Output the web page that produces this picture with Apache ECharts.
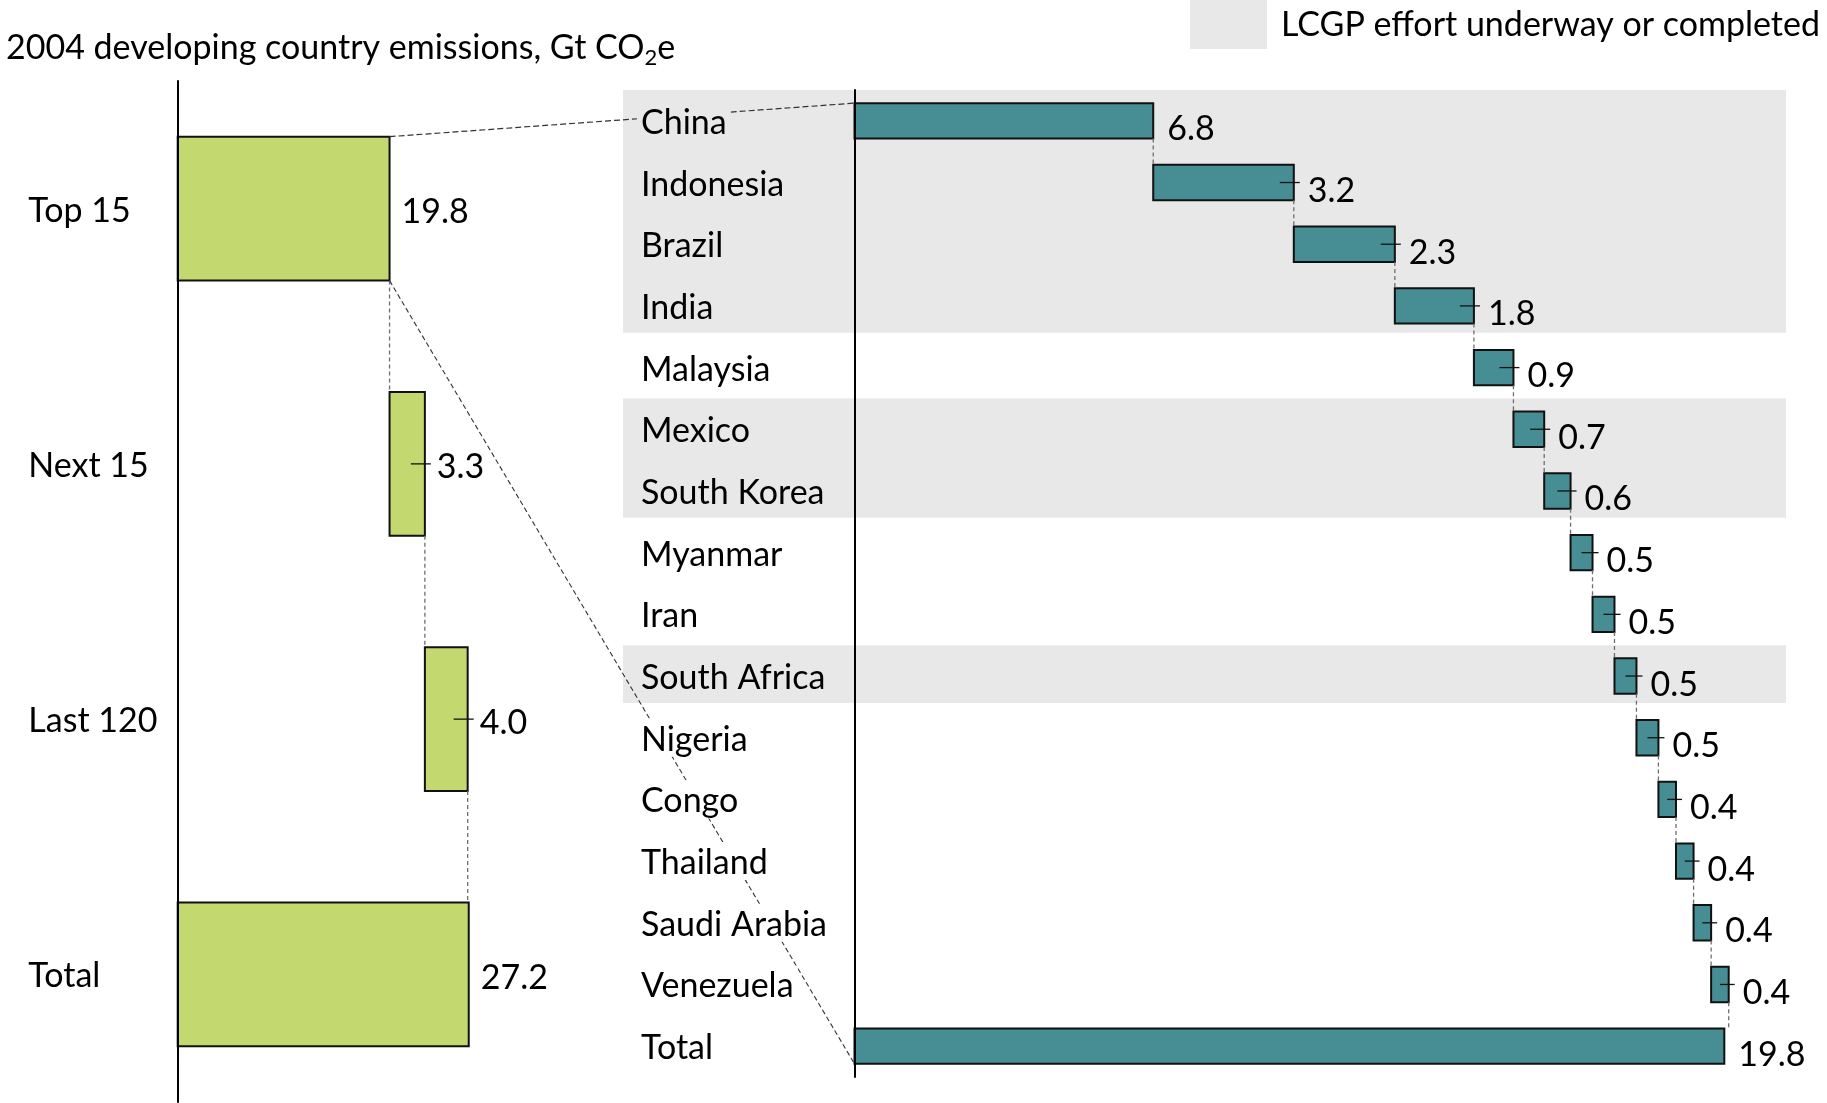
<!DOCTYPE html>
<html>
<head>
<meta charset="utf-8">
<title>2004 developing country emissions</title>
<script src="https://cdn.jsdelivr.net/npm/echarts@6/dist/echarts.min.js"></script>
<style>
  html, body { margin: 0; padding: 0; background: #fff; }
  #chart { width: 1827px; height: 1103px; }
</style>
</head>
<body>
<div id="chart"></div>
<script>
// Emission groups (Gt CO2e); the last entry is the overall total
const groupNames = ['Top 15', 'Next 15', 'Last 120', 'Total'];
const groupValues = [19.8, 3.3, 4.0, 27.2];

// Top 15 developing countries; the last entry is their total
const countryNames = ['China', 'Indonesia', 'Brazil', 'India', 'Malaysia', 'Mexico',
  'South Korea', 'Myanmar', 'Iran', 'South Africa', 'Nigeria', 'Congo', 'Thailand',
  'Saudi Arabia', 'Venezuela', 'Total'];
const countryValues = [6.8, 3.2, 2.3, 1.8, 0.9, 0.7, 0.6, 0.5, 0.5, 0.5, 0.5, 0.4, 0.4,
  0.4, 0.4, 19.8];

// 1 = LCGP effort underway or completed
const lcgpFlags = [1, 1, 1, 1, 0, 1, 1, 0, 0, 1, 0, 0, 0, 0, 0, 0];

const FONT = 'Lato';
const FS = 34;
const BAND_GREY = '#E8E8E8';

// Waterfall rows: [start, end, categoryIndex, value, kind]
// kind 0 = first step, 1 = intermediate step, 2 = total bar
function waterfall(values) {
  let acc = 0;
  return values.map(function (v, i) {
    if (i === values.length - 1) return [0, v, i, v, 2];
    const row = [acc, acc + v, i, v, i === 0 ? 0 : 1];
    acc += v;
    return row;
  });
}

function makeRenderer(barRatio, labelDx, labelDy) {
  return function (params, api) {
    const s = api.value(0), e = api.value(1), c = api.value(2), v = api.value(3), kind = api.value(4);
    const p0 = api.coord([s, c]);
    const p1 = api.coord([e, c]);
    const band = api.size([0, 1])[1];
    const h = band * barRatio;
    const top = p0[1] - h / 2;
    const children = [{
      type: 'rect',
      shape: { x: p0[0], y: top, width: p1[0] - p0[0], height: h },
      style: { fill: api.visual('color'), stroke: '#111', lineWidth: 2 }
    }];
    if (kind !== 2) {
      // dashed connector down to the next bar
      const nextTop = api.coord([e, c + 1])[1] - h / 2;
      children.push({
        type: 'line',
        shape: { x1: p1[0], y1: top + h, x2: p1[0], y2: nextTop },
        style: { stroke: '#6f6f6f', lineWidth: 1.3, lineDash: [4, 3] }
      });
    }
    if (kind === 1) {
      // short leader from inside the bar to its label
      const mid = (p0[0] + p1[0]) / 2;
      children.push({
        type: 'line',
        shape: { x1: Math.max(mid, p1[0] - 14), y1: p1[1], x2: p1[0] + 6, y2: p1[1] },
        style: { stroke: '#111', lineWidth: 1.3 }
      });
    }
    children.push({
      type: 'text',
      style: {
        text: v.toFixed(1), x: p1[0] + labelDx, y: p1[1] + labelDy,
        fill: '#000', font: FS + 'px ' + FONT, verticalAlign: 'middle', align: 'left'
      }
    });
    return { type: 'group', children: children };
  };
}

const chart = echarts.init(document.getElementById('chart'), null, { renderer: 'canvas' });

const richLabels = {
  g: { backgroundColor: BAND_GREY, padding: [4, 4, 0, 4], fontFamily: FONT, fontSize: FS, color: '#000' },
  w: { backgroundColor: '#fff', padding: [4, 4, 0, 4], fontFamily: FONT, fontSize: FS, color: '#000' }
};

chart.setOption({
  animation: false,
  backgroundColor: '#fff',
  grid: [
    { left: 177.7, top: 81, width: 321, height: 1021 },
    { left: 854.5, top: 90, width: 878.6, height: 987 }
  ],
  xAxis: [
    { gridIndex: 0, type: 'value', min: 0, max: 30, show: false },
    { gridIndex: 1, type: 'value', min: 0, max: 20, show: false }
  ],
  yAxis: [
    {
      gridIndex: 0, type: 'category', data: groupNames, inverse: true, z: 10,
      axisLine: { show: true, lineStyle: { color: '#000', width: 2 } },
      axisTick: { show: false }, splitLine: { show: false },
      axisLabel: {
        margin: 153.4, align: 'left', fontFamily: FONT, fontSize: FS, color: '#000',
        formatter: function (value) { return '{w|' + value + '}'; },
        rich: richLabels
      }
    },
    {
      gridIndex: 1, type: 'category', data: countryNames, inverse: true, z: 10,
      axisLine: { show: true, lineStyle: { color: '#000', width: 2 } },
      axisTick: { show: false }, splitLine: { show: false },
      axisLabel: {
        margin: 217.5, align: 'left', fontFamily: FONT, fontSize: FS, color: '#000',
        formatter: function (value, idx) {
          return (lcgpFlags[idx] ? '{g|' : '{w|') + value + '}';
        },
        rich: richLabels
      }
    }
  ],
  series: [
    {
      type: 'custom', xAxisIndex: 0, yAxisIndex: 0,
      itemStyle: { color: '#C3D970' },
      encode: { x: [0, 1], y: 2 },
      renderItem: makeRenderer(0.564, 12, 3.5),
      data: waterfall(groupValues), clip: false
    },
    {
      type: 'custom', xAxisIndex: 1, yAxisIndex: 1,
      itemStyle: { color: '#468E93' },
      encode: { x: [0, 1], y: 2 },
      renderItem: makeRenderer(0.574, 14, 8.5),
      data: waterfall(countryValues), clip: false
    }
  ]
});

// Background bands, zoom lines, legend and heading are placed from axis coordinates
const toL = function (x, c) { return chart.convertToPixel({ xAxisIndex: 0, yAxisIndex: 0 }, [x, c]); };
const toR = function (x, c) { return chart.convertToPixel({ xAxisIndex: 1, yAxisIndex: 1 }, [x, c]); };

const bandL = toL(0, 1)[1] - toL(0, 0)[1];
const hL = bandL * 0.564;
const bandR = toR(0, 1)[1] - toR(0, 0)[1];
const hR = bandR * 0.574;

const elements = [];

// grey rows for countries with an LCGP effort
let i = 0;
while (i < lcgpFlags.length) {
  if (lcgpFlags[i]) {
    let j = i;
    while (j + 1 < lcgpFlags.length && lcgpFlags[j + 1]) j++;
    const y0 = toR(0, i)[1] - bandR / 2;
    const y1 = toR(0, j)[1] + bandR / 2 - 4;
    elements.push({
      type: 'rect', z: 1, silent: true,
      shape: { x: 623, y: y0, width: 1786 - 623, height: y1 - y0 },
      style: { fill: BAND_GREY }
    });
    i = j + 1;
  } else {
    i++;
  }
}

// dashed lines linking the Top 15 bar to the country breakdown
const topEnd = toL(groupValues[0], 0);
const chinaStart = toR(0, 0);
const totalStart = toR(0, countryNames.length - 1);
elements.push({
  type: 'line', z: 5, silent: true,
  shape: { x1: topEnd[0], y1: topEnd[1] - hL / 2, x2: chinaStart[0], y2: chinaStart[1] - hR / 2 },
  style: { stroke: '#333', lineWidth: 1.2, lineDash: [6, 3] }
});
elements.push({
  type: 'line', z: 5, silent: true,
  shape: { x1: topEnd[0], y1: topEnd[1] + hL / 2, x2: totalStart[0], y2: totalStart[1] + hR / 2 },
  style: { stroke: '#333', lineWidth: 1.1, lineDash: [5, 3] }
});

// legend
elements.push({
  type: 'rect', z: 5, silent: true,
  shape: { x: 1190, y: 0, width: 77, height: 49 },
  style: { fill: BAND_GREY }
});
elements.push({
  type: 'text', z: 5, silent: true,
  style: {
    text: 'LCGP effort underway or completed', x: 1281, y: 25.5,
    font: FS + 'px ' + FONT, fill: '#000', verticalAlign: 'middle', align: 'left'
  }
});

// heading with subscript
elements.push({
  type: 'text', z: 5, silent: true,
  style: {
    text: '2004 developing country emissions, Gt CO{sub|2}e', x: 6, y: 48,
    font: FS + 'px ' + FONT, fill: '#000', verticalAlign: 'middle', align: 'left',
    rich: {
      sub: { fontFamily: FONT, fontSize: 22, fill: '#000', padding: [20, 0, 0, 0] }
    }
  }
});

chart.setOption({ graphic: { elements: elements } });
</script>
</body>
</html>
